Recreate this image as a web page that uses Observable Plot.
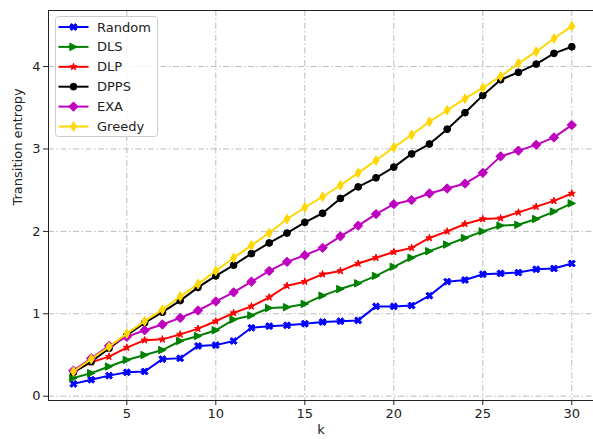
<!DOCTYPE html>
<html>
<head>
<meta charset="utf-8">
<script src="https://cdn.jsdelivr.net/npm/d3@7"></script>
<script src="https://cdn.jsdelivr.net/npm/@observablehq/plot@0.6"></script>
<style>
  html, body { margin: 0; padding: 0; background: #fff; }
  #wrap { position: relative; width: 593px; height: 439px; overflow: hidden; }
  #legend { position: absolute; left: 0; top: 0; pointer-events: none; }
</style>
</head>
<body>
<div id="wrap"></div>
<script>
// ---- data ----
const kValues = d3.range(2, 31);
const seriesNames = ["Random", "DLS", "DLP", "DPPS", "EXA", "Greedy"];
const seriesColors = ["#0000ff", "#008000", "#ff0000", "#000000", "#bf00bf", "#ffd700"];
const xTicks = [5, 10, 15, 20, 25, 30];
const yTicks = [0, 1, 2, 3, 4];

const randomValues = [0.15,0.20,0.25,0.29,0.30,0.45,0.46,0.61,0.62,0.67,0.83,0.85,0.86,0.88,0.90,0.91,0.92,1.09,1.09,1.10,1.22,1.39,1.41,1.48,1.49,1.50,1.54,1.55,1.61];
const dlsValues = [0.22,0.28,0.36,0.44,0.50,0.56,0.67,0.73,0.80,0.93,0.98,1.07,1.08,1.12,1.22,1.30,1.37,1.46,1.57,1.68,1.76,1.84,1.92,2.00,2.07,2.08,2.15,2.24,2.34];
const dlpValues = [0.30,0.41,0.48,0.59,0.68,0.69,0.75,0.82,0.91,1.01,1.09,1.20,1.34,1.39,1.48,1.52,1.61,1.68,1.75,1.80,1.92,2.00,2.09,2.15,2.16,2.23,2.30,2.37,2.46];
const dppsValues = [0.29,0.42,0.58,0.74,0.89,1.02,1.16,1.32,1.46,1.59,1.73,1.86,1.98,2.11,2.22,2.40,2.54,2.65,2.78,2.94,3.06,3.24,3.44,3.65,3.84,3.93,4.03,4.16,4.24];
const exaValues = [0.31,0.46,0.61,0.72,0.80,0.87,0.95,1.04,1.15,1.26,1.39,1.52,1.63,1.71,1.80,1.94,2.07,2.21,2.33,2.38,2.46,2.52,2.58,2.71,2.91,2.98,3.05,3.14,3.29];
const greedyValues = [0.30,0.45,0.60,0.76,0.91,1.05,1.21,1.36,1.52,1.68,1.83,1.98,2.15,2.29,2.42,2.56,2.71,2.86,3.02,3.17,3.33,3.47,3.61,3.74,3.88,4.04,4.18,4.34,4.49];

const allValues = [randomValues, dlsValues, dlpValues, dppsValues, exaValues, greedyValues];

// ---- custom marker symbols (size = area; R = sqrt(size/PI)) ----
function poly(ctx, pts) {
  ctx.moveTo(pts[0][0], pts[0][1]);
  for (let i = 1; i < pts.length; i++) ctx.lineTo(pts[i][0], pts[i][1]);
  ctx.closePath();
}
const symX = { draw(ctx, size) {
  const R = Math.sqrt(size / Math.PI), a = R * 0.32, L = R;
  const base = [[-a,-L],[a,-L],[a,-a],[L,-a],[L,a],[a,a],[a,L],[-a,L],[-a,a],[-L,a],[-L,-a],[-a,-a]];
  const c = Math.SQRT1_2;
  poly(ctx, base.map(([x,y]) => [c*(x - y), c*(x + y)]));
}};
const symTriRight = { draw(ctx, size) {
  const R = Math.sqrt(size / Math.PI);
  poly(ctx, [[R, 0], [-R, R], [-R, -R]]);
}};
const symStar = { draw(ctx, size) {
  const R = Math.sqrt(size / Math.PI), r = R * 0.381966;
  const pts = [];
  for (let i = 0; i < 10; i++) {
    const ang = -Math.PI / 2 + i * Math.PI / 5;
    const rr = i % 2 === 0 ? R : r;
    pts.push([rr * Math.cos(ang), rr * Math.sin(ang)]);
  }
  poly(ctx, pts);
}};
const symCircle = { draw(ctx, size) {
  const R = Math.sqrt(size / Math.PI);
  ctx.moveTo(R, 0);
  ctx.arc(0, 0, R, 0, 2 * Math.PI);
}};
const symDiamond = { draw(ctx, size) {
  const R = Math.sqrt(size / Math.PI) * 1.3;
  poly(ctx, [[0,-R],[R,0],[0,R],[-R,0]]);
}};
const symThinDiamond = { draw(ctx, size) {
  const R = Math.sqrt(size / Math.PI) * 1.3, w = R * 0.6;
  poly(ctx, [[0,-R],[w,0],[0,R],[-w,0]]);
}};
const seriesSymbols = [symX, symTriRight, symStar, symCircle, symDiamond, symThinDiamond];
const seriesR = [3.8, 3.7, 3.7, 3.4, 3.6, 3.7];

// tidy rows built from the arrays
const rows = seriesNames.map((name, i) =>
  kValues.map((k, j) => ({ k, value: allValues[i][j], series: name }))
);

const font = "DejaVu Sans, sans-serif";
const gridStyle = { stroke: "#b0b0b0", strokeOpacity: 0.85, strokeWidth: 1, strokeDasharray: "6,2.5,1.5,2.5" };

const marks = [
  Plot.gridX(xTicks, gridStyle),
  Plot.gridY(yTicks, gridStyle),
];
rows.forEach((data, i) => {
  marks.push(Plot.line(data, { x: "k", y: "value", stroke: seriesColors[i], strokeWidth: 2 }));
  marks.push(Plot.dot(data, { x: "k", y: "value", symbol: seriesSymbols[i], r: seriesR[i],
    fill: seriesColors[i], stroke: seriesColors[i], strokeWidth: 1 }));
});
marks.push(
  Plot.axisX(xTicks, { tickSize: 5, tickPadding: 3, tickFormat: d => String(d), label: null, stroke: "#222", fill: "#222" }),
  Plot.axisY(yTicks, { tickSize: 5, tickPadding: 3, tickFormat: d => String(d), label: null, stroke: "#222", fill: "#222" }),
  Plot.ruleX([0.6], { stroke: "#222", strokeWidth: 1 }),
  Plot.ruleY([-0.052], { stroke: "#222", strokeWidth: 1 }),
  Plot.ruleY([4.68], { stroke: "#222", strokeWidth: 1 }),
  Plot.text(["k"], { frameAnchor: "bottom", dy: 33, fill: "#222" }),
  Plot.text(["Transition entropy"], { frameAnchor: "left", dx: -31, rotate: -90, fill: "#222" })
);

const chart = Plot.plot({
  width: 593,
  height: 439,
  marginLeft: 48,
  marginRight: 0,
  marginTop: 10,
  marginBottom: 39,
  style: { fontFamily: font, fontSize: "13px", background: "#fff", overflow: "visible" },
  x: { domain: [0.6, 31.22], axis: null },
  y: { domain: [-0.052, 4.68], axis: null },
  marks
});
document.getElementById("wrap").appendChild(chart);

// ---- legend overlay ----
const lg = d3.select("#wrap").append("svg")
  .attr("id", "legend").attr("width", 593).attr("height", 439);
lg.append("rect")
  .attr("x", 55.5).attr("y", 16.5).attr("width", 102).attr("height", 120).attr("rx", 3)
  .attr("fill", "#fff").attr("fill-opacity", 0.8).attr("stroke", "#cccccc");
seriesNames.forEach((name, i) => {
  const y = 27 + i * 19.9;
  const g = lg.append("g");
  g.append("line").attr("x1", 58.5).attr("x2", 88.5).attr("y1", y).attr("y2", y)
    .attr("stroke", seriesColors[i]).attr("stroke-width", 2);
  const R = seriesR[i];
  g.append("path").attr("transform", `translate(73.5,${y})`)
    .attr("d", d3.symbol(seriesSymbols[i], R * R * Math.PI)())
    .attr("fill", seriesColors[i]).attr("stroke", seriesColors[i]).attr("stroke-width", 1);
  g.append("text").attr("x", 97).attr("y", y).attr("dy", "0.35em")
    .attr("font-family", font).attr("font-size", 13).attr("fill", "#222").text(name);
});
</script>
</body>
</html>
